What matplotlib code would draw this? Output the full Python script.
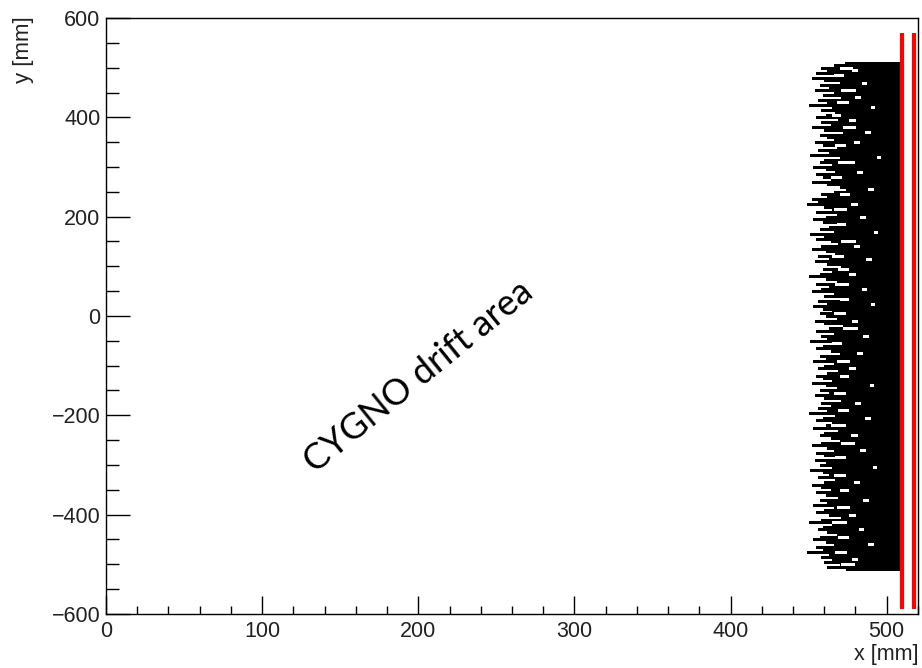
import numpy as np
import matplotlib.pyplot as plt
from matplotlib.ticker import MultipleLocator

# --- track data (x start of each horizontal track, top to bottom) ---
track_y = np.arange(510, -511, -5)
track_x_start = [
    473, 466, 458, 462, 455, 468, 452, 460, 470, 457,
    463, 454, 466, 459, 471, 456, 462, 450, 465, 458,
    467, 461, 455, 469, 458, 464, 452, 460, 472, 457,
    462, 466, 454, 459, 468, 456, 463, 451, 470, 460,
    457, 465, 453, 461, 467, 455, 459, 464, 452, 462,
    470, 474, 466, 458, 462, 452, 456, 449, 460, 465,
    455, 468, 461, 453, 459, 472, 463, 457, 466, 451,
    460, 455, 464, 469, 458, 452, 461, 467, 456, 463,
    454, 462, 471, 459, 465, 457, 450, 461, 468, 455,
    463, 458, 452, 466, 460, 470, 456, 462, 453, 459,
    465, 457, 461, 468, 454, 460, 472, 463, 455, 466,
    458, 462, 451, 467, 459, 455, 464, 470, 457, 461,
    453, 466, 460, 456, 469, 462, 455, 459, 465, 452,
    461, 468, 457, 463, 454, 460, 471, 458, 464, 456,
    462, 450, 467, 459, 455, 465, 461, 453, 469, 460,
    457, 464, 470, 458, 452, 462, 466, 455, 460, 468,
    454, 461, 457, 465, 451, 459, 463, 456, 467, 460,
    452, 458, 464, 455, 461, 469, 457, 462, 453, 466,
    460, 455, 463, 471, 458, 450, 465, 459, 456, 462,
    468, 457, 453, 461, 466, 455, 459, 449, 463, 458,
    465, 460, 470, 462, 474,
]
track_x_end = 508

# breaks inside tracks: y, start x, length
gap_y = [495, 470, 440, 420, 395, 370, 350, 320, 290, 255, 225, 200, 170, 140, 115, 85, 55,
         25, -10, -40, -75, -105, -140, -175, -205, -240, -270, -305, -335, -370, -400, -430,
         -460, -490,
         500, 485, 455, 430, 405, 380, 345, 310, 280, 245, 215, 185, 150, 120, 95, 65, 35,
         5, -25, -55, -90, -120, -155, -190, -220, -255, -285, -320, -350, -385, -415, -445,
         -475, -500]
gap_x0 = [478, 484, 480, 490, 476, 486, 479, 494, 481, 488, 477, 483, 492, 479, 487, 476, 484,
          490, 478, 485, 481, 476, 489, 480, 486, 477, 483, 491, 479, 485, 476, 482, 488, 478,
          470, 466, 471, 468, 465, 472, 467, 469, 464, 470, 466, 468, 471, 465, 469, 467, 470,
          466, 472, 465, 468, 470, 466, 469, 464, 471, 467, 466, 470, 468, 465, 469, 467, 471]
gap_len = [3, 3, 3, 2, 4, 3, 3, 2, 3, 3, 4, 3, 2, 3, 3, 4, 3,
           2, 3, 3, 3, 4, 2, 3, 3, 4, 3, 2, 3, 3, 4, 3, 3, 3,
           8, 6, 9, 7, 5, 8, 6, 10, 7, 6, 8, 5, 9, 7, 6, 8, 5,
           7, 9, 6, 8, 5, 7, 6, 9, 8, 6, 7, 5, 8, 9, 6, 7, 8]

# readout planes (red)
plane_x = [510.0, 517.5]
plane_y = (-590, 570)

fig = plt.figure(figsize=(9.22, 6.68), dpi=100)
ax = fig.add_axes([0.115, 0.081, 0.8806, 0.892])

ax.hlines(track_y, track_x_start, track_x_end, color='black', lw=1.9, antialiased=False)
ax.hlines(gap_y, gap_x0, np.array(gap_x0) + np.array(gap_len), color='white', lw=1.0,
          antialiased=False)
ax.vlines(plane_x, plane_y[0], plane_y[1], color='#ff0000', lw=3.0)

ax.text(200, -122, 'CYGNO drift area', rotation=39, rotation_mode='anchor',
        ha='center', va='center', fontsize=26, fontweight='normal',
        family=['Lato', 'DejaVu Sans'])

ax.set_xlim(0, 520)
ax.set_ylim(-600, 600)
ax.xaxis.set_major_locator(MultipleLocator(100))
ax.xaxis.set_minor_locator(MultipleLocator(20))
ax.yaxis.set_major_locator(MultipleLocator(200))
ax.yaxis.set_minor_locator(MultipleLocator(50))
ax.tick_params(which='both', direction='in', top=False, right=False, width=1.0,
               labelsize=15.5, labelfontfamily='Liberation Sans', labelcolor='#222222')
ax.tick_params(axis='x', which='major', length=13, pad=5)
ax.tick_params(axis='x', which='minor', length=5.8)
ax.tick_params(axis='y', which='major', length=17.3, pad=4)
ax.tick_params(axis='y', which='minor', length=9.4)
for s in ax.spines.values():
    s.set_linewidth(1.0)

fig.text(0.9957, 0.004, 'x [mm]', ha='right', va='bottom', fontsize=15.5,
         family='Liberation Sans', color='#222222')
fig.text(24 / 922, 1 - 16 / 668, 'y [mm]', rotation=90, ha='center', va='top',
         fontsize=16, family='Liberation Sans', color='#222222')

fig.savefig('out.png', dpi=100)
